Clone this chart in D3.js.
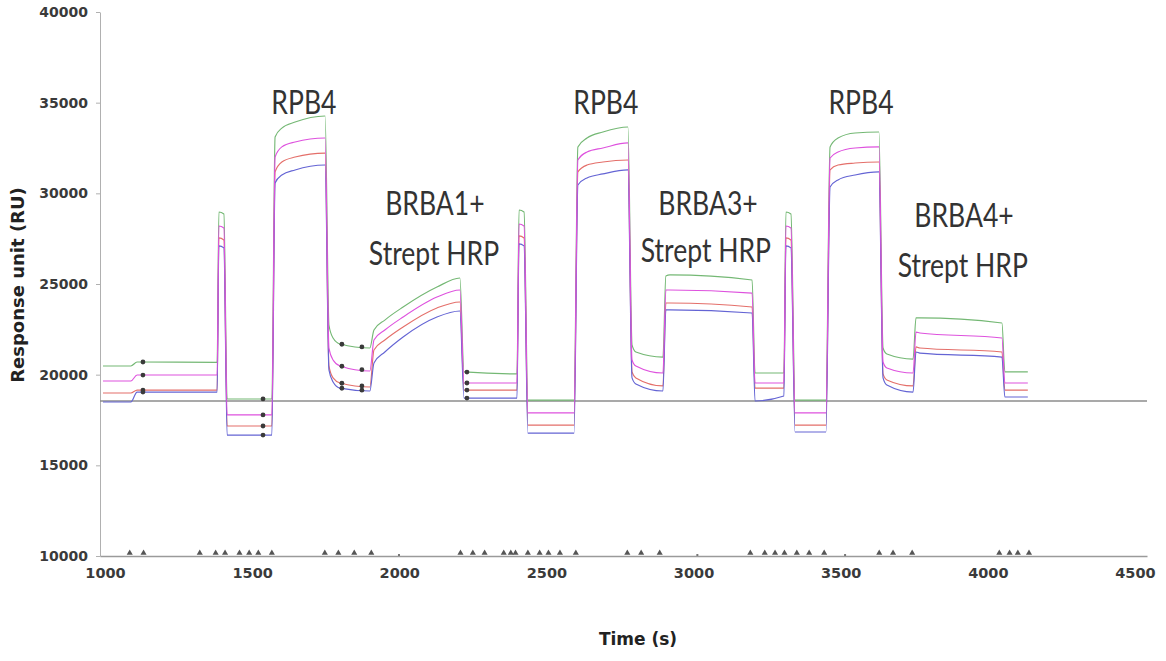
<!DOCTYPE html>
<html>
<head>
<meta charset="utf-8">
<script src="https://cdn.jsdelivr.net/npm/d3@7"></script>
<style>
  body { margin: 0; background: #fff; }
  svg { display: block; }
</style>
</head>
<body>
<svg id="chart" width="1166" height="661"></svg>
<script>
// ---------------- DATA ----------------
const times = [993, 1088, 1109, 1381, 1387, 1404, 1415, 1567, 1578, 1601, 1646, 1748, 1761, 1775, 1799, 1900,
  1914, 1951, 2013, 2128, 2206, 2220, 2400, 2407, 2424, 2437, 2594, 2607, 2638, 2692, 2777, 2791, 2804, 2896,
  2906, 2920, 3199, 3209, 3307, 3314, 3331, 3345, 3450, 3464, 3491, 3549, 3630, 3644, 3657, 3746, 3756, 3769,
  4048, 4058, 4136];

const green = [20480, 20480, 20700, 20680, 28970, 28860, 18660, 18660, 33110, 33600, 33930, 34265, 22740, 22020,
  21690, 21470, 22460, 23010, 23730, 24830, 25330, 20150, 20040, 29080, 28970, 18600, 18600, 32560, 33050, 33380,
  33660, 21640, 21250, 20970, 25440, 25500, 25220, 20090, 20090, 28970, 28860, 18600, 18600, 32560, 33050, 33330,
  33380, 21470, 21140, 20860, 23130, 23130, 22850, 20150, 20150];

const pink = [19650, 19650, 19980, 19980, 28200, 28090, 17780, 17780, 32000, 32560, 32830, 33050, 21470, 20810,
  20480, 20200, 21910, 22460, 23180, 24280, 24670, 19540, 19540, 28310, 28200, 17890, 17890, 31840, 32280, 32500,
  32780, 20810, 20480, 20090, 24670, 24670, 24500, 19540, 19540, 28200, 28090, 17890, 17890, 31950, 32280, 32500,
  32560, 20700, 20370, 20090, 22350, 22300, 22020, 19540, 19540];

const red = [18990, 18990, 19150, 19150, 27540, 27430, 17170, 17170, 31180, 31730, 32000, 32220, 20480, 19820,
  19540, 19320, 21360, 21910, 22630, 23680, 24010, 19150, 19150, 27650, 27540, 17220, 17220, 31180, 31560, 31730,
  31840, 20150, 19820, 19380, 23950, 23950, 23730, 19260, 19260, 27540, 27430, 17220, 17220, 31290, 31560, 31670,
  31730, 20040, 19710, 19380, 21530, 21470, 21250, 19150, 19150];

const blue = [18490, 18490, 19040, 19040, 27100, 26990, 16670, 16670, 30570, 31010, 31290, 31560, 20260, 19600,
  19260, 19100, 20640, 21250, 22080, 23180, 23510, 18710, 18710, 27210, 27100, 16780, 16780, 30460, 30850, 31070,
  31290, 19820, 19490, 19100, 23570, 23570, 23400, 18550, 18820, 27100, 26990, 16840, 16840, 30350, 30740, 31010,
  31180, 19820, 19430, 19040, 21250, 21190, 20970, 18770, 18770];

const baselineValue = 18550;
const reportTimes = [1129, 1537, 1805, 1873, 2230];
const injectionMarks = [1084, 1131, 1322, 1376, 1408, 1457, 1490, 1521, 1567, 1747, 1793, 1847, 1905, 2208,
  2250, 2290, 2355, 2379, 2395, 2437, 2477, 2507, 2546, 2600, 2775, 2822, 2885, 3193, 3242, 3277, 3309, 3351,
  3393, 3444, 3631, 3678, 3743, 4039, 4074, 4102, 4140];
const minorMarks = [1999, 3013, 3515];

const yTicks = [10000, 15000, 20000, 25000, 30000, 35000, 40000];
const xTicks = [1000, 1500, 2000, 2500, 3000, 3500, 4000, 4500];

const annotationText = ["RPB4", "RPB4", "RPB4", "BRBA1+", "Strept HRP", "BRBA3+", "Strept HRP", "BRBA4+", "Strept HRP"];
const annotationTime = [1676, 2702, 3569, 2121, 2118, 3049, 3042, 3919, 3915];
const annotationValue = [34375, 34375, 34375, 28805, 26048, 28805, 26213, 28143, 25386];

// ---------------- CHART ----------------
const svg = d3.select("#chart");
const x = d3.scaleLinear().domain([983, 4541]).range([100, 1147]);
const y = d3.scaleLinear().domain([10000, 40000]).range([556, 12]);

const series = [
  { name: "green", values: green, color: "#74b874" },
  { name: "red", values: red, color: "#e46f6a" },
  { name: "blue", values: blue, color: "#6464d4" },
  { name: "pink", values: pink, color: "#de52de" }
];

// y axis
const yAxis = d3.axisLeft(y).tickValues(yTicks).tickSize(4).tickSizeOuter(0).tickPadding(8).tickFormat(d3.format("d"));
const gy = svg.append("g").attr("transform", `translate(${x.range()[0]},0)`).call(yAxis);
gy.select(".domain").attr("stroke", "#b0b0b0");
gy.selectAll(".tick line").attr("stroke", "#b0b0b0");
gy.selectAll(".tick text").attr("fill", "#3a3a3a")
  .style("font-family", "'DejaVu Sans', sans-serif").style("font-weight", "bold").style("font-size", "14px");

// x axis
const xAxis = d3.axisBottom(x).tickValues(xTicks).tickSize(0).tickSizeOuter(0).tickPadding(12).tickFormat(d3.format("d"));
const gx = svg.append("g").attr("transform", `translate(0,${y(10000)})`).call(xAxis);
gx.select(".domain").attr("stroke", "#9a9a9a").attr("stroke-width", 1.5);
gx.selectAll(".tick text").attr("fill", "#3a3a3a")
  .style("font-family", "'DejaVu Sans', sans-serif").style("font-weight", "bold").style("font-size", "14.5px");

// baseline
svg.append("line")
  .attr("x1", x.range()[0]).attr("x2", x.range()[1])
  .attr("y1", y(baselineValue)).attr("y2", y(baselineValue))
  .attr("stroke", "#8c8c8c").attr("stroke-width", 1.6);

// sensorgram lines
const line = d3.line()
  .x((d, i) => x(times[i]))
  .y(d => y(d))
  .curve(d3.curveMonotoneX);

svg.append("g").selectAll("path").data(series).join("path")
  .attr("d", s => line(s.values))
  .attr("fill", "none")
  .attr("stroke", s => s.color)
  .attr("stroke-width", 1.15);

// report points on curves
function valueAt(vals, t) {
  const i = d3.bisectRight(times, t);
  const t0 = times[i - 1], t1 = times[i];
  const f = (t - t0) / (t1 - t0);
  return vals[i - 1] + f * (vals[i] - vals[i - 1]);
}
const dots = [];
reportTimes.forEach(t => series.forEach(s => dots.push({ t, v: valueAt(s.values, t) })));
svg.append("g").selectAll("circle").data(dots).join("circle")
  .attr("cx", d => x(d.t)).attr("cy", d => y(d.v)).attr("r", 2.4)
  .attr("fill", "#3a3a3a");

// injection markers on the time axis
const tri = d3.symbol().type(d3.symbolTriangle).size(16);
svg.append("g").selectAll("path").data(injectionMarks).join("path")
  .attr("d", tri)
  .attr("transform", d => `translate(${x(d)},${y(10000) - 3})`)
  .attr("fill", "#555");
svg.append("g").selectAll("rect").data(minorMarks).join("rect")
  .attr("x", d => x(d) - 1).attr("y", y(10000) - 2).attr("width", 2).attr("height", 2)
  .attr("fill", "#777");

// annotations
svg.append("g").selectAll("text").data(annotationText).join("text")
  .attr("transform", (d, i) => `translate(${x(annotationTime[i])},${y(annotationValue[i])}) scale(0.83,1)`)
  .attr("text-anchor", "middle")
  .style("font-family", "Lato, 'Open Sans', sans-serif")
  .style("font-size", "32px")
  .attr("fill", "#333")
  .text(d => d);

// axis titles
svg.append("text")
  .attr("transform", "translate(24,285) rotate(-90)")
  .attr("text-anchor", "middle")
  .style("font-family", "'DejaVu Sans', sans-serif").style("font-weight", "bold").style("font-size", "18px")
  .attr("fill", "#222")
  .text("Response unit (RU)");

svg.append("text")
  .attr("x", 638).attr("y", 645)
  .attr("text-anchor", "middle")
  .style("font-family", "'DejaVu Sans', sans-serif").style("font-weight", "bold").style("font-size", "17px")
  .attr("fill", "#222")
  .text("Time (s)");
</script>
</body>
</html>
